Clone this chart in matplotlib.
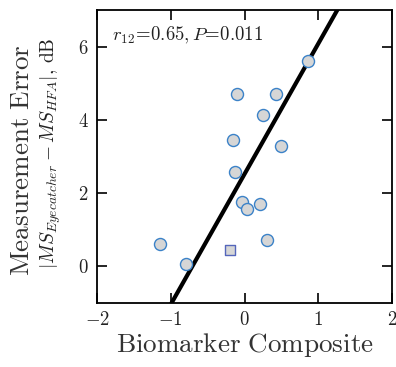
import numpy as np
import matplotlib
matplotlib.use("Agg")
import matplotlib.pyplot as plt

plt.rcParams['mathtext.fontset'] = 'cm'
plt.rcParams['font.family'] = 'serif'
plt.rcParams['font.serif'] = ['cmr10', 'DejaVu Serif']
plt.rcParams['axes.formatter.use_mathtext'] = True

# biomarker composite vs measurement error (circles), one outlier (square)
bio = [0.86, -0.10, 0.43, 0.25, -0.16, 0.50, -0.13, -0.03, 0.03, 0.21, 0.30, -1.14, -0.80]
err = [5.61, 4.71, 4.71, 4.12, 3.45, 3.30, 2.59, 1.75, 1.57, 1.70, 0.71, 0.60, 0.07]
sq_bio = [-0.19]
sq_err = [0.44]
fit_x = [-1.2, 1.5]
slope, icpt = 3.56, 2.52

txt = '#222222'
fig = plt.figure(figsize=(3.96, 3.67), dpi=100)
ax = fig.add_axes([97/396, 1-303/367, 295/396, 293/367])

fx = np.array(fit_x)
ax.plot(fx, slope*fx + icpt, color='black', lw=3, zorder=2)
ax.scatter(bio, err, s=75, facecolor='#d6d6d6', edgecolor='#3b82c8', lw=1.0, zorder=3)
ax.scatter(sq_bio, sq_err, s=42, marker='s', facecolor='#d6d6d6', edgecolor='#5566bb', lw=1.0, zorder=3)

ax.set_xlim(-2, 2)
ax.set_ylim(-1, 7)
ax.set_xticks([-2, -1, 0, 1, 2])
ax.set_yticks([0, 2, 4, 6])
ax.tick_params(direction='in', length=7, width=1.2, top=True, right=True,
               labelsize=13.5, labelcolor=txt, pad=6)
for s in ax.spines.values():
    s.set_linewidth(1.3)

ax.text(0.05, 0.895, r'$r_{12}\!=\!0.65, P\!=\!0.011$', transform=ax.transAxes,
        fontsize=13.5, color=txt)

ax.set_xlabel(r'$\mathrm{Biomarker\ Composite}$', fontsize=19.5, color='#333333', labelpad=1)
fig.text(22/396, 1-160/367, r'$\mathrm{Measurement\ Error}$', rotation=90,
         fontsize=19.5, color='#333333', ha='center', va='center')
fig.text(51/396, 1-153/367, r'$|MS_{Eyecatcher}-MS_{HFA}|$, $\mathrm{dB}$', rotation=90,
         fontsize=14, color=txt, ha='center', va='center')

fig.savefig('out.png', dpi=100)
